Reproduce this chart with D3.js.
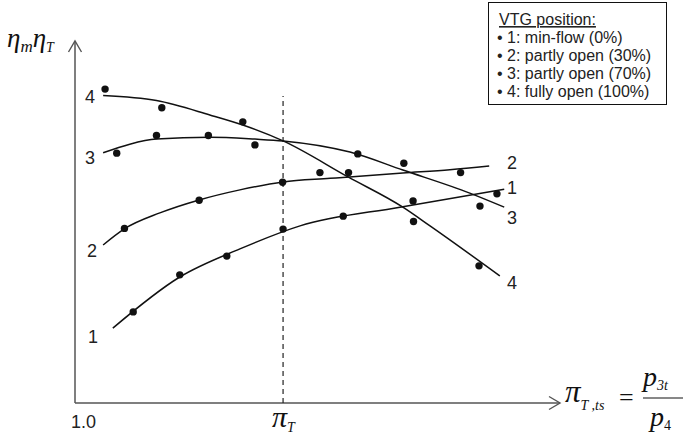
<!DOCTYPE html>
<html>
<head>
<meta charset="utf-8">
<script src="https://cdn.jsdelivr.net/npm/d3@7"></script>
<style>
  body { margin: 0; background: #fff; }
  svg { display: block; }
  .lbl { font-family: "Liberation Sans", Arial, sans-serif; fill: #222; }
  .math { font-family: "Liberation Serif", "Times New Roman", serif; font-style: italic; fill: #111; }
</style>
</head>
<body>
<script>

// ---- data (arbitrary units, schematic chart) ----

// measured points per VTG position
var points1 = [[12.0,25.3],[21.6,35.6],[31.3,40.8],[42.9,48.3],[55.3,51.9],[69.7,56.1],[87.0,58.1]];
var points2 = [[10.2,48.5],[25.6,56.3],[42.8,61.3],[50.5,64.0],[79.5,64.0]];
var points3 = [[8.6,69.4],[16.8,74.3],[27.5,74.3],[37.1,71.7],[58.3,69.2],[67.8,66.6],[83.5,54.7]];
var points4 = [[6.2,87.2],[17.9,82.0],[34.6,78.1],[56.4,64.0],[69.8,50.4],[83.3,38.1]];

// fitted curves
var fit1 = [[7.8,20.8],[21.6,35.0],[34.0,42.8],[46.4,49.2],[67.0,54.4],[88.5,59.4]];
var fit2 = [[5.8,43.9],[10.1,48.3],[17.5,52.8],[25.6,56.4],[34.0,59.2],[42.9,61.4],[52.6,62.4],[67.6,63.9],[77.3,64.8],[85.4,65.8]];
var fit3 = [[5.8,69.5],[11.3,71.9],[16.8,73.3],[27.8,73.8],[37.1,73.3],[42.9,72.8],[56.7,69.7],[67.6,64.7],[81.4,58.3],[88.5,54.4]];
var fit4 = [[5.8,85.4],[16.8,84.0],[27.8,80.0],[34.6,77.2],[42.9,72.8],[56.3,62.8],[67.6,54.4],[73.2,49.2],[87.6,35.3]];

var curveNames = ["1", "2", "3", "4"];
// label anchors at start / end of each curve
var labelsStart = [[3.7,16.7],[3.5,40.6],[3.1,66.4],[3.1,83.3]];
var labelsEnd = [[90.1,58.1],[90.1,65.0],[90.1,49.7],[90.1,31.7]];

var piT = 42.9;
var xTickVals = [1.75, piT];
var xTickLabels = ["1.0", "\u03C0"];

var legendTitle = "VTG position:";
var legendItems = [
  "\u2022 1: min-flow (0%)",
  "\u2022 2: partly open (30%)",
  "\u2022 3: partly open (70%)",
  "\u2022 4: fully open (100%)"
];

// ---- layout ----
var width = 683, height = 443;
var x = d3.scaleLinear().domain([0, 100]).range([75, 560]);
var y = d3.scaleLinear().domain([0, 100]).range([403, 43]);

var svg = d3.select("body").append("svg")
  .attr("width", width)
  .attr("height", height);

// axes
var axisColor = "#555";
svg.append("line")
  .attr("x1", x(0)).attr("y1", y(0))
  .attr("x2", x(0)).attr("y2", y(100) - 2)
  .attr("stroke", axisColor).attr("stroke-width", 1.5);
svg.append("line")
  .attr("x1", x(0)).attr("y1", y(0))
  .attr("x2", x(100)).attr("y2", y(0))
  .attr("stroke", axisColor).attr("stroke-width", 1.5);

// arrow heads (open chevrons)
svg.append("path")
  .attr("d", "M" + (x(0) - 6.5) + "," + (y(100) + 9) + "L" + x(0) + "," + (y(100) - 2) + "L" + (x(0) + 6.5) + "," + (y(100) + 9))
  .attr("fill", "none").attr("stroke", axisColor).attr("stroke-width", 1.4);
svg.append("path")
  .attr("d", "M" + (x(100) - 11) + "," + (y(0) - 6.5) + "L" + x(100) + "," + y(0) + "L" + (x(100) - 11) + "," + (y(0) + 6.5))
  .attr("fill", "none").attr("stroke", axisColor).attr("stroke-width", 1.4);

// dashed pi_T line
svg.append("line")
  .attr("x1", x(piT)).attr("y1", y(0))
  .attr("x2", x(piT)).attr("y2", y(85.3))
  .attr("stroke", "#222").attr("stroke-width", 1.2)
  .attr("stroke-dasharray", "5,4");

// curves
var line = d3.line()
  .x(function(d) { return x(d[0]); })
  .y(function(d) { return y(d[1]); })
  .curve(d3.curveMonotoneX);

var fits = [fit1, fit2, fit3, fit4];
var pts = [points1, points2, points3, points4];

svg.append("g").selectAll("path")
  .data(fits)
  .enter().append("path")
  .attr("d", line)
  .attr("fill", "none")
  .attr("stroke", "#111")
  .attr("stroke-width", 1.5);

svg.append("g").selectAll("circle")
  .data(d3.merge(pts))
  .enter().append("circle")
  .attr("cx", function(d) { return x(d[0]); })
  .attr("cy", function(d) { return y(d[1]); })
  .attr("r", 3.7)
  .attr("fill", "#111");

// curve labels
svg.append("g").selectAll("text")
  .data(labelsStart.concat(labelsEnd))
  .enter().append("text")
  .attr("class", "lbl")
  .attr("x", function(d) { return x(d[0]); })
  .attr("y", function(d) { return y(d[1]); })
  .attr("text-anchor", "middle")
  .style("font-size", "18px")
  .text(function(d, i) { return curveNames[i % 4]; });

// x tick labels
svg.append("text")
  .attr("class", "lbl")
  .attr("x", x(xTickVals[0])).attr("y", 428)
  .attr("text-anchor", "middle")
  .style("font-size", "18px")
  .text(xTickLabels[0]);

var piLab = svg.append("text")
  .attr("class", "math")
  .attr("x", x(xTickVals[1]) - 11).attr("y", 427)
  .style("font-size", "30px");
piLab.append("tspan").text(xTickLabels[1]);
piLab.append("tspan").attr("dy", 5).style("font-size", "14px").text("T");

// y axis title
var yLab = svg.append("text")
  .attr("class", "math")
  .attr("x", 7).attr("y", 47)
  .style("font-size", "27px");
yLab.append("tspan").text("\u03B7");
yLab.append("tspan").attr("dy", 5).style("font-size", "17px").text("m");
yLab.append("tspan").attr("dy", -5).text("\u03B7");
yLab.append("tspan").attr("dy", 5).style("font-size", "14px").text("T");

// x axis title: pi_T,ts = p3t / p4
var xLab = svg.append("text")
  .attr("class", "math")
  .attr("x", 565).attr("y", 402)
  .style("font-size", "31px");
xLab.append("tspan").text("\u03C0");
xLab.append("tspan").attr("dy", 8).style("font-size", "14px").text("T ,ts");

svg.append("text")
  .attr("x", 619).attr("y", 406)
  .style("font-family", "Liberation Serif, serif")
  .style("font-size", "26px")
  .attr("fill", "#111")
  .text("=");

var num = svg.append("text")
  .attr("class", "math")
  .attr("x", 643).attr("y", 386)
  .style("font-size", "28px");
num.append("tspan").text("p");
num.append("tspan").attr("dy", 4).style("font-size", "14px").text("3t");

svg.append("line")
  .attr("x1", 643).attr("x2", 683)
  .attr("y1", 398).attr("y2", 398)
  .attr("stroke", "#111").attr("stroke-width", 1);

var den = svg.append("text")
  .attr("class", "math")
  .attr("x", 650).attr("y", 426)
  .style("font-size", "28px");
den.append("tspan").text("p");
den.append("tspan").attr("dy", 4).style("font-size", "14px").style("font-style", "normal").text("4");

// legend
var lg = svg.append("g");
lg.append("rect")
  .attr("x", 488.5).attr("y", 2.5)
  .attr("width", 178).attr("height", 102)
  .attr("fill", "#fff").attr("stroke", "#111").attr("stroke-width", 1);

lg.append("text")
  .attr("class", "lbl")
  .attr("x", 499).attr("y", 25)
  .style("font-size", "16px")
  .attr("text-decoration", "underline")
  .text(legendTitle);

lg.selectAll("text.item")
  .data(legendItems)
  .enter().append("text")
  .attr("class", "lbl item")
  .attr("x", 497)
  .attr("y", function(d, i) { return 43 + i * 18; })
  .style("font-size", "16px")
  .text(function(d) { return d; });

</script>
</body>
</html>
